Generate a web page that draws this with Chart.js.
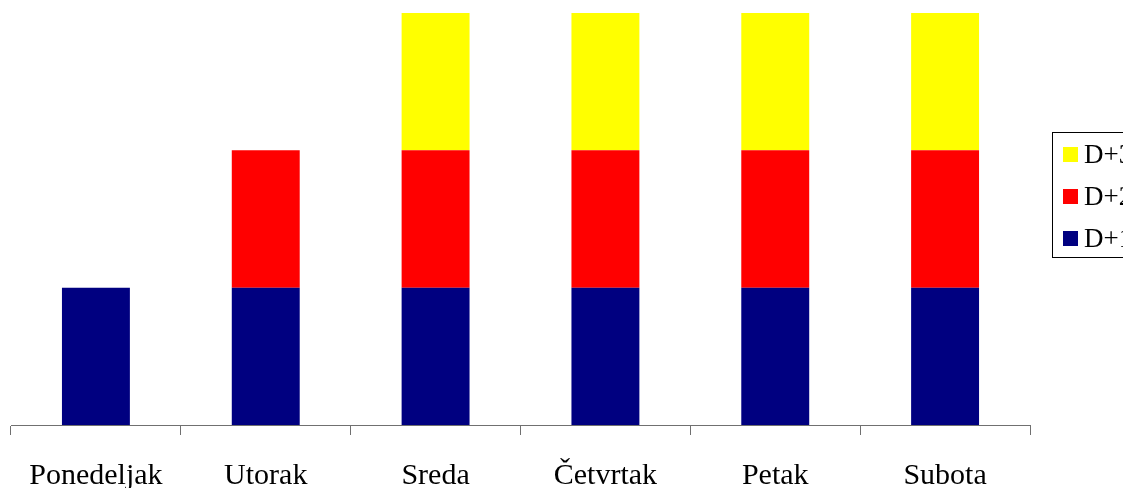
<!DOCTYPE html>
<html>
<head>
<meta charset="utf-8">
<script src="https://cdn.jsdelivr.net/npm/chart.js@4"></script>
<style>
  html, body { margin: 0; padding: 0; background: #fff; overflow: hidden; }
  #wrap { width: 1123px; height: 488px; }
</style>
</head>
<body>
<div id="wrap"><canvas id="canv" width="1123" height="488"></canvas></div>
<script>
var days = ["Ponedeljak", "Utorak", "Sreda", "Četvrtak", "Petak", "Subota"];
var seriesNames = ["D+1", "D+2", "D+3"];
var d1 = [1, 1, 1, 1, 1, 1];
var d2 = [0, 1, 1, 1, 1, 1];
var d3 = [0, 0, 1, 1, 1, 1];
var colors = ["#000080", "#FF0000", "#FFFF00"];

// legend with a frame, drawn on the right, last series on top
var boxLegend = {
  id: "boxLegend",
  afterDraw: function (chart) {
    var ctx = chart.ctx;
    ctx.save();
    ctx.strokeStyle = "#000";
    ctx.lineWidth = 1;
    ctx.strokeRect(1052.5, 132.5, 100, 125);
    ctx.font = "27px 'Liberation Serif', 'Times New Roman', serif";
    ctx.textBaseline = "alphabetic";
    var ds = chart.data.datasets;
    for (var i = 0; i < ds.length; i++) {
      var d = ds[ds.length - 1 - i];
      var base = 163 + i * 42;
      ctx.fillStyle = d.backgroundColor;
      ctx.fillRect(1063, base - 16, 15, 15);
      ctx.fillStyle = "#000";
      ctx.fillText(d.label, 1084, base);
    }
    ctx.restore();
  }
};

var sets = [d1, d2, d3];
var datasets = [];
for (var s = 0; s < sets.length; s++) {
  datasets.push({
    label: seriesNames[s],
    data: sets[s],
    backgroundColor: colors[s],
    borderWidth: 0,
    barPercentage: 0.4,
    categoryPercentage: 1.0
  });
}

chart = new Chart(document.getElementById("canv"), {
  type: "bar",
  data: { labels: days, datasets: datasets },
  plugins: [boxLegend],
  options: {
    responsive: false,
    animation: false,
    layout: { padding: { left: 11, right: 93, top: 13, bottom: 0 } },
    plugins: {
      legend: { display: false },
      tooltip: { enabled: false }
    },
    scales: {
      x: {
        stacked: true,
        afterFit: function (scale) { scale.height = 63; },
        grid: {
          offset: true,
          drawOnChartArea: false,
          drawTicks: true,
          tickLength: 10,
          color: "#707070"
        },
        border: { display: true, color: "#707070", width: 1 },
        ticks: {
          color: "#000",
          padding: 26,
          font: { family: "'Liberation Serif', 'Times New Roman', serif", size: 30, lineHeight: 1.0 }
        }
      },
      y: {
        stacked: true,
        display: false,
        min: 0,
        max: 3
      }
    }
  }
});
</script>
</body>
</html>
